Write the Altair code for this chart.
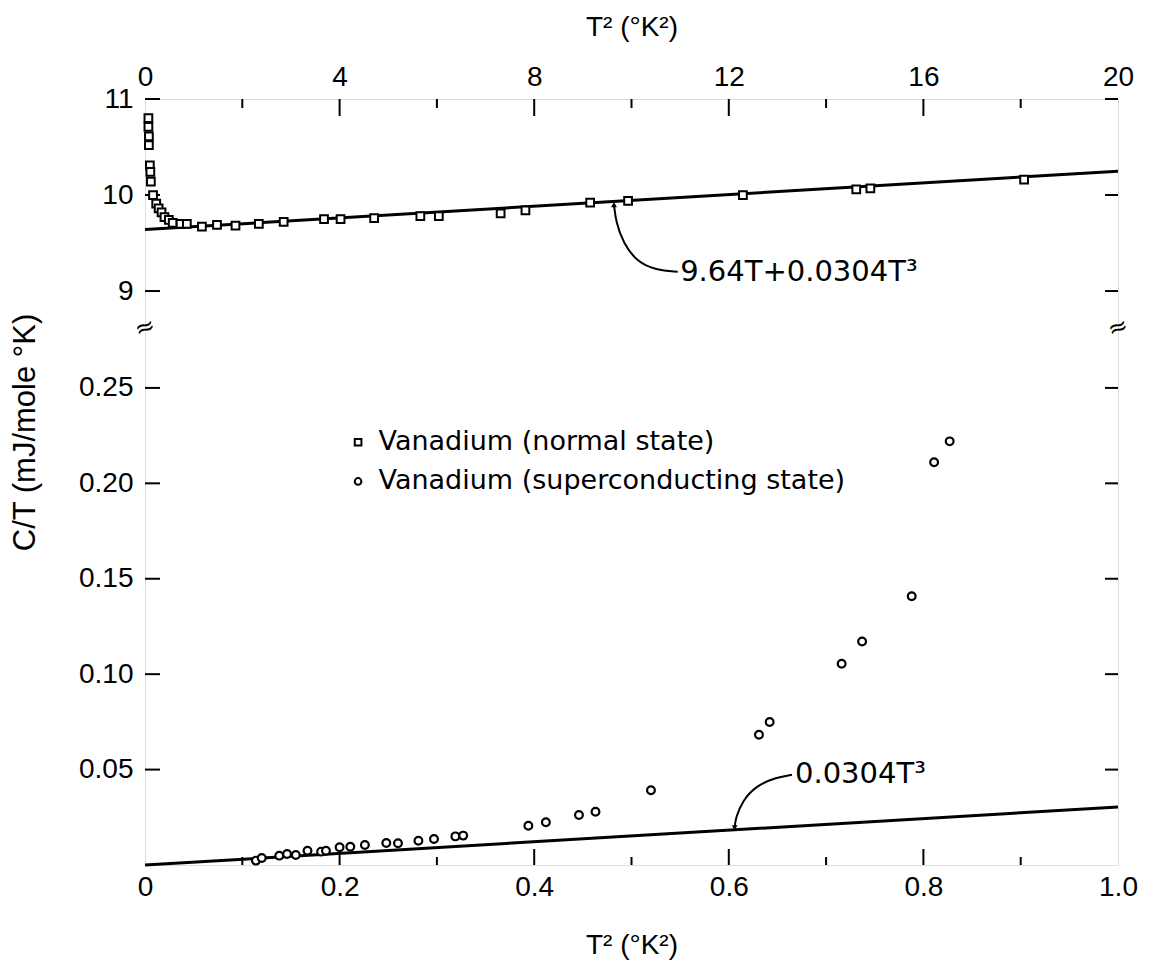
import altair as alt
import pandas as pd

NORMAL = "Vanadium (normal state)"
SUPER = "Vanadium (superconducting state)"
FONT = "DejaVu Sans"

# ---- data ----
normal_t2 = [0.07, 0.07, 0.08, 0.08, 0.10, 0.11, 0.12, 0.165, 0.23, 0.28, 0.34, 0.40,
             0.49, 0.57, 0.73, 0.86, 1.17, 1.48, 1.86, 2.34, 2.85, 3.68, 4.02, 4.71,
             5.66, 6.04, 7.31, 7.82, 9.15, 9.93, 12.29, 14.62, 14.91, 18.07]
normal_ct = [10.80, 10.71, 10.61, 10.52, 10.31, 10.24, 10.14, 10.00, 9.91, 9.86, 9.82, 9.77,
             9.74, 9.71, 9.70, 9.70, 9.67, 9.69, 9.68, 9.70, 9.72, 9.75, 9.75, 9.76,
             9.78, 9.78, 9.81, 9.84, 9.92, 9.94, 10.00, 10.06, 10.07, 10.16]

super_t2 = [0.114, 0.120, 0.138, 0.146, 0.155, 0.167, 0.181, 0.186, 0.200, 0.211,
            0.226, 0.248, 0.260, 0.281, 0.297, 0.319, 0.327, 0.394, 0.412, 0.446,
            0.463, 0.520, 0.631, 0.642, 0.716, 0.737, 0.788, 0.811, 0.827]
super_ct = [0.0023, 0.0037, 0.0049, 0.0058, 0.0052, 0.0075, 0.0070, 0.0075, 0.0093, 0.0096,
            0.0105, 0.0115, 0.0114, 0.0127, 0.0136, 0.0150, 0.0154, 0.0206, 0.0224, 0.0262,
            0.0279, 0.0392, 0.0683, 0.0749, 0.1055, 0.1171, 0.1408, 0.211, 0.222]

# fitted curves (end points)
fit_n_t2 = [0, 20]
fit_n_ct = [9.64, 10.248]
fit_s_t2 = [0, 1.0]
fit_s_ct = [0.0, 0.0304]

# annotation leader curves
arr_n_t2 = [10.95, 10.50, 10.12, 9.83, 9.68, 9.64]
arr_n_ct = [9.20, 9.22, 9.30, 9.50, 9.72, 9.90]
arr_s_t2 = [0.665, 0.649, 0.628, 0.614, 0.607, 0.606]
arr_s_ct = [0.0473, 0.0460, 0.0415, 0.0336, 0.0247, 0.0195]
label_n = "9.64T+0.0304T³"
label_s = "0.0304T³"
label_n_pos = [11.0, 9.20]
label_s_pos = [0.668, 0.0477]

# legend (drawn inside the lower panel)
legend_states = [NORMAL, SUPER]
legend_sym_t2 = [0.219, 0.219]
legend_txt_t2 = [0.240, 0.240]
legend_ct = [0.2215, 0.2010]

# axis ticks
y_ticks = [0.05, 0.10, 0.15, 0.20, 0.25, 9, 10, 11]
bot_labels = [0, 0.2, 0.4, 0.6, 0.8, 1.0]
bot_major = [0.2, 0.4, 0.6, 0.8]
bot_minor = [0.1, 0.3, 0.5, 0.7, 0.9]
top_labels = [0, 4, 8, 12, 16, 20]
top_major = [4, 8, 12, 16]
top_minor = [2, 6, 10, 14, 18]

# ---- layout ----
W, H = 973, 766
BREAK = 229
y_domain = [0, 0.2814, 8.615, 11]
y_range = [H, BREAK, BREAK, 0]

yscale = alt.Scale(domain=y_domain, range=y_range, zero=False, nice=False)
yaxis = alt.Axis(values=y_ticks,
                 labelExpr="datum.value >= 1 ? format(datum.value, 'd') : format(datum.value, '.2f')",
                 ticks=False, domain=False, grid=False, labelFlush=False,
                 labelFontSize=28, labelPadding=12,
                 title="C/T (mJ/mole °K)", titleFontSize=31, titleFontWeight="normal",
                 titleAngle=-90, titleX=-120, titleY=333, titleAlign="center",
                 titleBaseline="middle")
Y = alt.Y("ct:Q", scale=yscale, axis=yaxis)

xb_scale = alt.Scale(domain=[0, 1.0], zero=False, nice=False)
xb_axis = alt.Axis(values=bot_labels, orient="bottom",
                   labelExpr="datum.value == 0 ? '0' : format(datum.value, '.1f')",
                   ticks=False, domain=False, grid=False, labelFlush=False,
                   labelFontSize=28, labelPadding=8,
                   title="T² (°K²)", titleFontSize=28, titleFontWeight="normal", titlePadding=30)
XB = alt.X("t2:Q", scale=xb_scale, axis=xb_axis)

xt_scale = alt.Scale(domain=[0, 20], zero=False, nice=False)
xt_axis = alt.Axis(values=top_labels, orient="top", format="d",
                   ticks=False, domain=False, grid=False, labelFlush=False,
                   labelFontSize=28, labelPadding=8,
                   title="T² (°K²)", titleFontSize=28, titleFontWeight="normal", titlePadding=22)
XT = alt.X("t2:Q", scale=xt_scale, axis=xt_axis)

shape_scale = alt.Scale(domain=[NORMAL, SUPER], range=["square", "circle"])
SHAPE = alt.Shape("state:N", scale=shape_scale, legend=None)

df_n = pd.DataFrame({"t2": normal_t2, "ct": normal_ct, "state": NORMAL})
df_s = pd.DataFrame({"t2": super_t2, "ct": super_ct, "state": SUPER})
df_fn = pd.DataFrame({"t2": fit_n_t2, "ct": fit_n_ct})
df_fs = pd.DataFrame({"t2": fit_s_t2, "ct": fit_s_ct})
df_an = pd.DataFrame({"t2": arr_n_t2, "ct": arr_n_ct, "i": range(len(arr_n_t2))})
df_as = pd.DataFrame({"t2": arr_s_t2, "ct": arr_s_ct, "i": range(len(arr_s_t2))})
df_ln = pd.DataFrame({"t2": [label_n_pos[0]], "ct": [label_n_pos[1]], "txt": [label_n]})
df_ls = pd.DataFrame({"t2": [label_s_pos[0]], "ct": [label_s_pos[1]], "txt": [label_s]})
df_tipn = pd.DataFrame({"t2": [arr_n_t2[-1]], "ct": [arr_n_ct[-1]]})
df_tips = pd.DataFrame({"t2": [arr_s_t2[-1]], "ct": [arr_s_ct[-1]]})
df_yt = pd.DataFrame({"ct": y_ticks})
df_leg_sym = pd.DataFrame({"t2": legend_sym_t2, "ct": legend_ct, "state": legend_states})
df_leg_txt = pd.DataFrame({"t2": legend_txt_t2, "ct": legend_ct, "state": legend_states})

# ---- lower (superconducting, bottom axis) ----
pts_s = alt.Chart(df_s).mark_point(filled=True, fill="white", stroke="black",
                                    strokeWidth=2.2, size=60, opacity=1).encode(
    x=XB, y=Y, shape=SHAPE)
leg_sym = alt.Chart(df_leg_sym).mark_point(filled=True, fill="white", stroke="black",
                                           strokeWidth=2, size=44, opacity=1).encode(
    x=XB, y=Y, shape=SHAPE)
leg_txt = alt.Chart(df_leg_txt).mark_text(align="left", baseline="middle", fontSize=27,
                                          font=FONT, color="black").encode(
    x=XB, y=Y, text="state:N")
fit_s = alt.Chart(df_fs).mark_line(color="black", strokeWidth=3).encode(x=XB, y=Y)
arr_s = alt.Chart(df_as).mark_line(color="black", strokeWidth=2, interpolate="basis").encode(
    x=XB, y=Y, order="i:Q")
tip_s = alt.Chart(df_tips).mark_point(shape="triangle-down", filled=True, color="black",
                                      size=34, opacity=1).encode(x=XB, y=Y)
txt_s = alt.Chart(df_ls).mark_text(align="left", baseline="middle", fontSize=29,
                                   font=FONT, color="black").encode(x=XB, y=Y, text="txt:N")
tb_major = alt.Chart(pd.DataFrame({"t2": bot_major})).mark_rule(color="black", strokeWidth=2).encode(
    x=XB, y=alt.value(H), y2=alt.value(H - 16))
tb_minor = alt.Chart(pd.DataFrame({"t2": bot_minor})).mark_rule(color="black", strokeWidth=2).encode(
    x=XB, y=alt.value(H), y2=alt.value(H - 8))
ty_left = alt.Chart(df_yt).mark_rule(color="black", strokeWidth=2).encode(
    y=Y, x=alt.value(0), x2=alt.value(15))
ty_right = alt.Chart(df_yt).mark_rule(color="black", strokeWidth=2).encode(
    y=Y, x=alt.value(W - 13), x2=alt.value(W))
brk = alt.Chart(pd.DataFrame({"s": ["≈", "≈"], "side": [0, W]})).mark_text(
    fontSize=24, font=FONT, color="black", angle=340).encode(
    x=alt.X("side:Q", scale=None), y=alt.value(BREAK), text="s:N")

lower = alt.layer(tb_major, tb_minor, ty_left, ty_right, fit_s, arr_s, tip_s, txt_s,
                  pts_s, leg_sym, leg_txt, brk)

# ---- upper (normal state, top axis) ----
pts_n = alt.Chart(df_n).mark_point(filled=True, fill="white", stroke="black",
                                    strokeWidth=2, size=60, opacity=1).encode(
    x=XT, y=Y, shape=SHAPE)
fit_n = alt.Chart(df_fn).mark_line(color="black", strokeWidth=3).encode(x=XT, y=Y)
arr_n = alt.Chart(df_an).mark_line(color="black", strokeWidth=2, interpolate="basis").encode(
    x=XT, y=Y, order="i:Q")
tip_n = alt.Chart(df_tipn).mark_point(shape="triangle-up", filled=True, color="black",
                                      size=34, opacity=1).encode(x=XT, y=Y)
txt_n = alt.Chart(df_ln).mark_text(align="left", baseline="middle", fontSize=29,
                                   font=FONT, color="black").encode(x=XT, y=Y, text="txt:N")
tt_major = alt.Chart(pd.DataFrame({"t2": top_major})).mark_rule(color="black", strokeWidth=2).encode(
    x=XT, y=alt.value(0), y2=alt.value(17))
tt_minor = alt.Chart(pd.DataFrame({"t2": top_minor})).mark_rule(color="black", strokeWidth=2).encode(
    x=XT, y=alt.value(0), y2=alt.value(9))

upper = alt.layer(tt_major, tt_minor, fit_n, arr_n, tip_n, txt_n, pts_n)

chart = alt.layer(lower, upper).resolve_scale(x="independent").properties(
    width=W, height=H,
    autosize=alt.AutoSizeParams(type="none"),
    padding={"left": 137, "top": 91, "right": 25, "bottom": 100},
).configure_view(stroke="black", strokeWidth=2).configure_axis(
    labelFont=FONT, titleFont=FONT, labelColor="black", titleColor="black",
    titleFontWeight="normal"
).configure(background="white")

chart.save("out.html", embed_options={"renderer": "svg", "actions": False})
